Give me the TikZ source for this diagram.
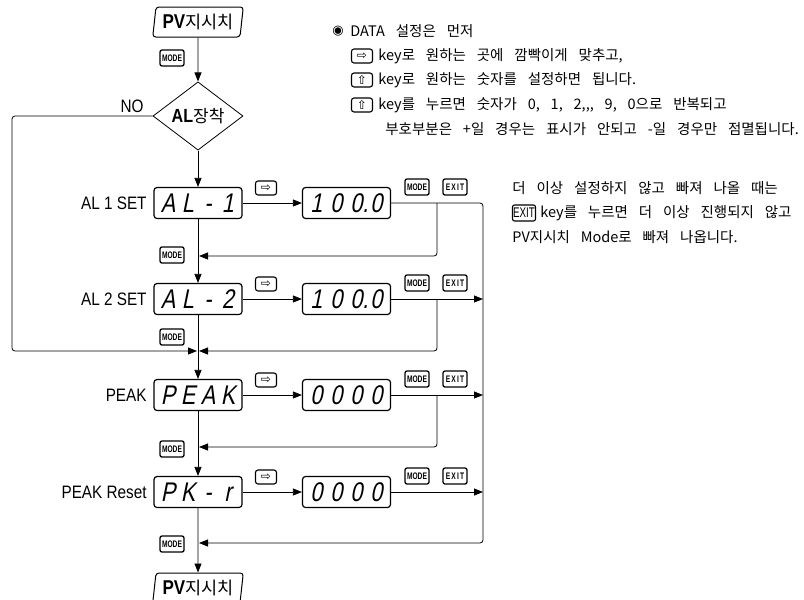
\documentclass[tikz,border=0pt]{standalone}
\usepackage{fontspec}
\setmainfont{Liberation Sans}
\newfontfamily\krfont{Noto Sans CJK KR}
\newfontfamily\labfont{Liberation Sans}[FakeStretch=0.85]
\newfontfamily\segfont{Liberation Sans}[FakeSlant=0.2,FakeStretch=0.8]
\newfontfamily\symfont{DejaVu Sans}
\newfontfamily\keyfont{Liberation Sans}[FakeStretch=0.7]
\usetikzlibrary{shapes.geometric,arrows.meta}
\newcommand\kt{\krfont\fontsize{14.5}{17}\selectfont\spaceskip=0.75em plus 0.1em\relax}
\newcommand\sg[1]{\makebox[20pt]{#1}}
\begin{document}
\begin{tikzpicture}[x=1pt,y=-1pt,line width=0.8pt,
  arr/.style={-{Triangle[length=9pt,width=7pt]}},
  disp/.style={draw,line width=1.2pt,rounded corners=3pt,minimum width=88pt,minimum height=31pt,inner sep=0pt,font=\segfont\fontsize{27}{27}\selectfont},
  modekey/.style={draw,line width=1.3pt,rounded corners=2pt,minimum width=24pt,minimum height=16pt,inner sep=0pt,font=\keyfont\bfseries\fontsize{9.5}{9.5}\selectfont},
  exitkey/.style={modekey,font=\keyfont\bfseries\fontsize{9.5}{9.5}\selectfont\addfontfeature{LetterSpace=12}},
  arkey/.style={draw,line width=1.1pt,rounded corners=2.5pt,minimum width=21pt,minimum height=14pt,inner sep=0pt,font=\symfont\fontsize{12}{12}\selectfont},
  lab/.style={anchor=east,font=\labfont\fontsize{18}{18}\selectfont,inner sep=0pt},
  kr/.style={anchor=west,font=\kt,inner sep=0pt},
  pv/.style={draw,trapezium,trapezium left angle=80,trapezium right angle=100,trapezium stretches=true,rounded corners=3pt,minimum width=91pt,minimum height=30pt,inner sep=0pt,line width=1pt,font=\labfont\fontsize{20}{20}\selectfont},
]
\useasboundingbox (0,0) rectangle (804,600);

% main column
\node[pv] (pv1) at (198,22) {\textbf{PV}{\krfont\fontsize{17.5}{18}\selectfont 지시치}};
\node[draw,diamond,minimum width=90pt,minimum height=62pt,inner sep=0pt,font=\labfont\fontsize{19}{19}\selectfont] (dia) at (198,116) {\textbf{AL}{\krfont\fontsize{17}{18}\selectfont 장착}};
\node[lab,anchor=center] (no) at (132,106) {NO};

\node[disp] (d1) at (198,203) {\sg{A}\sg{L}\sg{-}\sg{1}};
\node[disp] (e1) at (346.5,203) {\sg{1}\sg{0}\sg{0\rlap{.}}\sg{0}};
\node[lab] (l1) at (147,203) {AL 1 SET};
\node[arkey] (a1) at (266,188) {⇨};
\node[modekey] (mk1) at (417,187) {MODE};
\node[exitkey] (x1) at (455,187) {EXIT};

\node[disp] (d2) at (198,299) {\sg{A}\sg{L}\sg{-}\sg{2}};
\node[disp] (e2) at (346.5,299) {\sg{1}\sg{0}\sg{0\rlap{.}}\sg{0}};
\node[lab] (l2) at (147,299) {AL 2 SET};
\node[arkey] (a2) at (266,284) {⇨};
\node[modekey] (mk2) at (417,283) {MODE};
\node[exitkey] (x2) at (455,283) {EXIT};

\node[disp] (d3) at (198,395) {\sg{P}\sg{E}\sg{A}\sg{K}};
\node[disp] (e3) at (346.5,395) {\sg{0}\sg{0}\sg{0}\sg{0}};
\node[lab] (l3) at (147,395) {PEAK};
\node[arkey] (a3) at (266,380) {⇨};
\node[modekey] (mk3) at (417,379) {MODE};
\node[exitkey] (x3) at (455,379) {EXIT};

\node[disp] (d4) at (198,492) {\sg{P}\sg{K}\sg{-}\sg{r}};
\node[disp] (e4) at (346.5,492) {\sg{0}\sg{0}\sg{0}\sg{0}};
\node[lab] (l4) at (147,492) {PEAK Reset};
\node[arkey] (a4) at (266,477) {⇨};
\node[modekey] (mk4) at (417,476) {MODE};
\node[exitkey] (x4) at (455,476) {EXIT};

\node[pv] (pv2) at (198,588) {\textbf{PV}{\krfont\fontsize{17.5}{18}\selectfont 지시치}};

% left MODE keys
\node[modekey] (lm0) at (172,58) {MODE};
\node[modekey] (lm1) at (172,255) {MODE};
\node[modekey] (lm2) at (172,337) {MODE};
\node[modekey] (lm3) at (172,449) {MODE};
\node[modekey] (lm4) at (172,544) {MODE};

% coordinates
\coordinate (nl1) at (12,116);
\coordinate (nl2) at (12,351);
\coordinate (j2l) at (197,351);
\coordinate (c1) at (483,203);
\coordinate (c2) at (483,299);
\coordinate (c3) at (483,395);
\coordinate (c4) at (483,492);
\coordinate (c5) at (483,543);
\coordinate (b1) at (437,203);
\coordinate (b1d) at (437,256);
\coordinate (m1) at (199,256);
\coordinate (b2) at (437,299);
\coordinate (b2d) at (437,351);
\coordinate (m2) at (199,351);
\coordinate (b3) at (437,395);
\coordinate (b3d) at (437,447);
\coordinate (m3) at (199,447);
\coordinate (m5) at (199,543);

% connectors
\draw[arr] (pv1.south) -- (dia.north);
\draw[arr] (dia.south) -- (d1.north);
\draw[arr,rounded corners=3pt] (dia.west) -- (nl1) -- (nl2) -- (j2l);
\draw[arr] (d1.east) -- (e1.west);
\draw[arr,rounded corners=3pt] (e1.east) -- (c1) -- (c5) -- (m5);
\draw[arr,rounded corners=3pt] (b1) -- (b1d) -- (m1);
\draw[arr] (d1.south) -- (d2.north);
\draw[arr] (d2.east) -- (e2.west);
\draw[arr] (e2.east) -- (c2);
\draw[arr,rounded corners=3pt] (b2) -- (b2d) -- (m2);
\draw[arr] (d2.south) -- (d3.north);
\draw[arr] (d3.east) -- (e3.west);
\draw[arr] (e3.east) -- (c3);
\draw[arr,rounded corners=3pt] (b3) -- (b3d) -- (m3);
\draw[arr] (d3.south) -- (d4.north);
\draw[arr] (d4.east) -- (e4.west);
\draw[arr] (e4.east) -- (c4);
\draw[arr] (d4.south) -- (pv2.north);

% notes
\node[font=\symfont\fontsize{13}{13}\selectfont,inner sep=0pt] (bul) at (338,31) {◉};
\node[kr] (t0) at (350,31) {DATA 설정은 먼저};
\node[arkey] (k1) at (362,56) {⇨};
\node[kr] (t1) at (378,56) {key로 원하는 곳에 깜빡이게 맞추고,};
\node[arkey] (k2) at (362,80) {⇧};
\node[kr] (t2) at (378,80) {key로 원하는 숫자를 설정하면 됩니다.};
\node[arkey] (k3) at (362,105) {⇧};
\node[kr] (t3) at (378,105) {key를 누르면 숫자가 0, 1, 2,,, 9, 0으로 반복되고};
\node[kr] (t4) at (385,129) {부호부분은 +일 경우는 표시가 안되고 -일 경우만 점멸됩니다.};
\node[kr] (r1) at (512,188) {더 이상 설정하지 않고 빠져 나올 때는};
\node[draw,line width=1.1pt,rounded corners=2pt,minimum width=23pt,minimum height=16pt,inner sep=0pt,font=\keyfont\fontsize{14}{14}\selectfont] (kx) at (524,213) {EXIT};
\node[kr] (r2) at (540,213) {key를 누르면 더 이상 진행되지 않고};
\node[kr] (r3) at (512,237) {PV지시치 Mode로 빠져 나옵니다.};
\end{tikzpicture}
\end{document}
